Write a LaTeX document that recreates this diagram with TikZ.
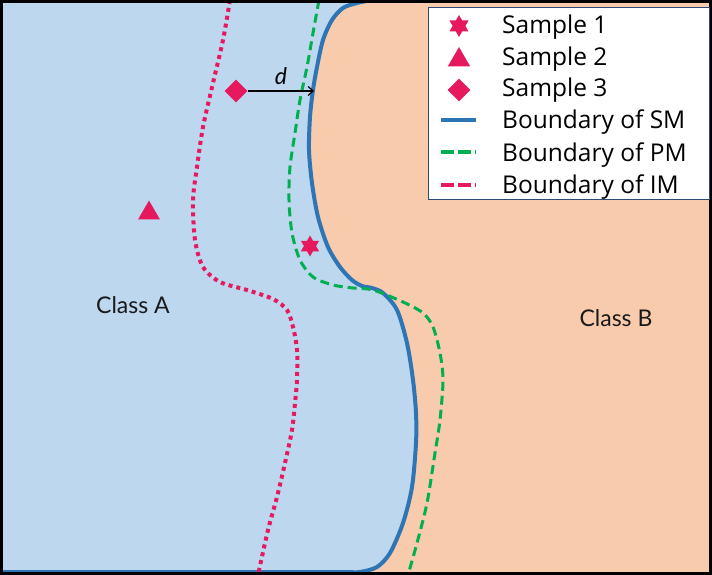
\documentclass[tikz,border=0pt]{standalone}
\usepackage{fontspec}
\setmainfont{Open Sans}
\newfontfamily\labfont{Lato}
\usetikzlibrary{shapes.geometric,arrows.meta}
\definecolor{bluefill}{HTML}{BDD7EE}
\definecolor{orangefill}{HTML}{F8CBAD}
\definecolor{smblue}{HTML}{2E75B6}
\definecolor{pmgreen}{HTML}{00B050}
\definecolor{impink}{HTML}{E6195E}
\definecolor{legborder}{HTML}{2F4A7A}
\tikzset{
  smline/.style={draw=smblue,line width=4pt},
  pmline/.style={draw=pmgreen,line width=3pt,dash pattern=on 9pt off 5pt},
  imline/.style={draw=impink,line width=4pt,dash pattern=on 4pt off 4pt},
  pmleg/.style={draw=pmgreen,line width=4pt,dash pattern=on 13pt off 4pt},
  imleg/.style={draw=impink,line width=4pt,dash pattern=on 13pt off 4pt},
  starmark/.style={star,star points=6,star point ratio=1.732,fill=impink,inner sep=0pt,minimum size=#1},
  trimark/.style={regular polygon,regular polygon sides=3,fill=impink,inner sep=0pt,minimum size=#1},
  diamark/.style={diamond,fill=impink,inner sep=0pt,minimum size=#1},
  legtext/.style={anchor=base west,inner sep=0pt,font=\fontsize{24.5}{28}\selectfont},
  classtext/.style={anchor=base,inner sep=0pt,font=\labfont\fontsize{23}{27}\selectfont,text=black!90}
}
\begin{document}
\begin{tikzpicture}[x=1pt,y=-1pt]
\useasboundingbox (0,0) rectangle (712,575);
% background
\fill[orangefill] (0,0) rectangle (712,575);
\fill[bluefill] (0,0) -- (372,0) -- plot[smooth] coordinates {(372,0) (357,3) (343,8) (332,20) (323,40) (317,67) (313,90) (310,117) (309,150) (312,183) (318,217) (328,247) (340,267) (352,280) (362,286) (372,288) (383,293) (397,310) (407,343) (413,380) (416,413) (416,443) (412,487) (403,523) (390,553) (377,567) (360,572) (350,572)} -- (0,572) -- (0,575) -- cycle;
% boundary of SM
\draw[smline] plot[smooth] coordinates {(372,0) (357,3) (343,8) (332,20) (323,40) (317,67) (313,90) (310,117) (309,150) (312,183) (318,217) (328,247) (340,267) (352,280) (362,286) (372,288) (383,293) (397,310) (407,343) (413,380) (416,413) (416,443) (412,487) (403,523) (390,553) (377,567) (360,572) (350,572)} -- (0,572);
% boundary of PM
\draw[pmline] plot[smooth] coordinates {(319,0) (313,33) (307,67) (300,100) (295,133) (290,167) (289,200) (292,233) (300,260) (313,277) (333,285) (353,288) (373,290) (403,302) (423,313) (433,327) (440,353) (443,380) (440,420) (435,453) (427,503) (417,543) (408,575)};
% boundary of IM
\draw[imline] plot[smooth] coordinates {(230,0) (223,40) (213,83) (203,127) (197,167) (193,200) (195,240) (203,267) (220,282) (247,290) (273,299) (287,310) (293,327) (297,350) (297,380) (295,403) (292,430) (285,463) (277,497) (268,530) (258,575)};
% samples
\node[starmark=21pt] (s1) at (310,246) {};
\node[trimark=25pt] (s2) at (149,213) {};
\node[diamark=23pt] (s3) at (236,91) {};
\coordinate (dend) at (314,91);
\draw[line width=1.2pt,-{Straight Barb[length=5pt,width=9pt]}] (s3.east) -- node[above=6pt,inner sep=0pt,font=\labfont\itshape\fontsize{23}{27}\selectfont] (dlab) {d} (dend);
% class labels
\node[classtext] (ca) at (133,313) {Class A};
\node[classtext] (cb) at (616,326) {Class B};
% frame
\draw[black,line width=3pt] (1.5,1.5) rectangle (710,573.5);
% legend
\node[draw=legborder,line width=1.2pt,fill=white,minimum width=281pt,minimum height=192pt,inner sep=0pt,anchor=north west] (leg) at (428,7) {};
\node[starmark=22pt] (l1) at (459,26) {};
\node[trimark=26pt] (l2) at (459,60) {};
\node[diamark=23pt] (l3) at (459,90) {};
\coordinate (l4a) at (441,120.5); \coordinate (l4b) at (476,120.5);
\coordinate (l5a) at (441,152.5); \coordinate (l5b) at (476,152.5);
\coordinate (l6a) at (441,184.5); \coordinate (l6b) at (476,184.5);
\draw[smline] (l4a) -- (l4b);
\draw[pmleg] (l5a) -- (l5b);
\draw[imleg] (l6a) -- (l6b);
\node[legtext] (t1) at (502,34) {Sample 1};
\node[legtext] (t2) at (502,66) {Sample 2};
\node[legtext] (t3) at (502,97) {Sample 3};
\node[legtext] (t4) at (502,129) {Boundary of SM};
\node[legtext] (t5) at (502,161) {Boundary of PM};
\node[legtext] (t6) at (502,193) {Boundary of IM};
\end{tikzpicture}
\end{document}
